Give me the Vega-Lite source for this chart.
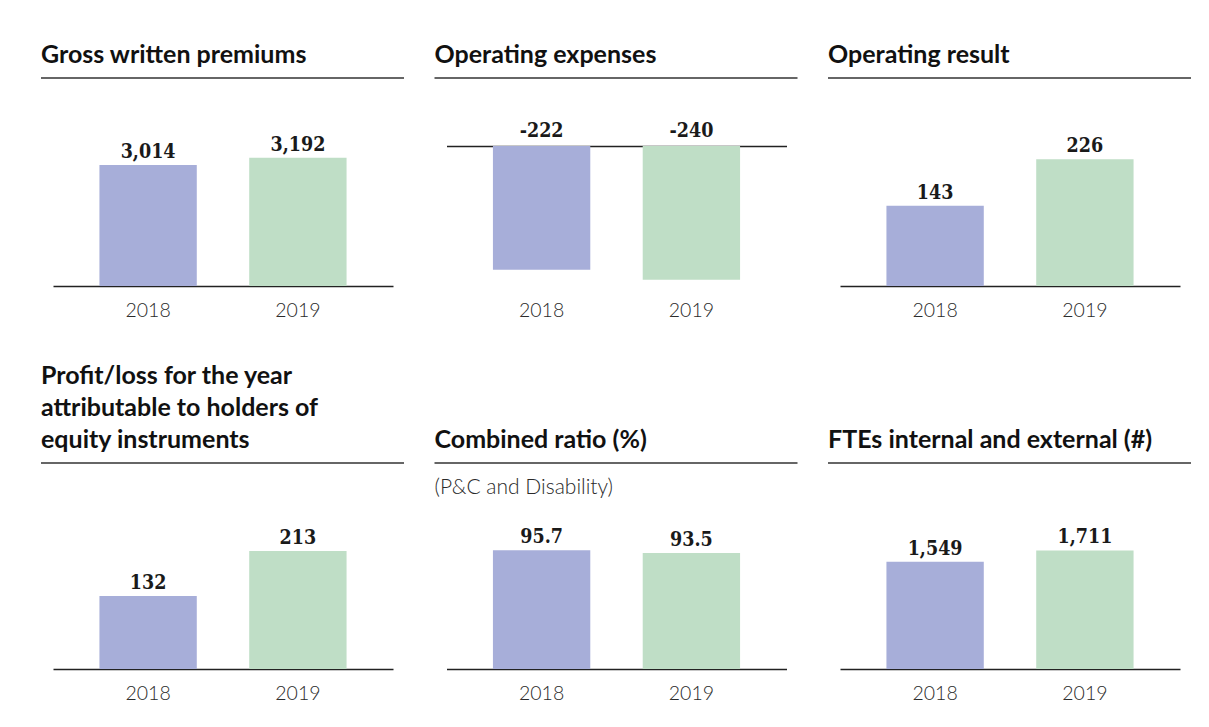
{
  "$schema": "https://vega.github.io/schema/vega-lite/v6.json",
  "background": "white",
  "padding": {"left": 40, "top": 42, "right": 5, "bottom": 5},
  "autosize": {"type": "pad"},
  "config": {
    "locale": {"number": {"decimal": ".", "thousands": ",", "grouping": [3], "currency": ["$", ""], "minus": "-"}},
    "view": {"stroke": null},
    "title": {"anchor": "start", "frame": "group", "font": "Lato", "fontSize": 25, "fontWeight": 700, "color": "#111111", "offset": 9.5, "lineHeight": 32},
    "axis": {"grid": false, "ticks": false, "tickSize": 0, "domainColor": "#222222", "domainWidth": 1.5, "labelFont": "Lato", "labelFontWeight": 300, "labelFontSize": 19.5, "labelColor": "#2a2a2a", "labelPadding": 15.5, "labelAngle": 0},
    "text": {"font": "DejaVu Serif Condensed", "fontWeight": "bold", "fontSize": 19.5, "color": "#1a1a1a"}
  },
  "datasets": {
    "kpi": [
      {"panel": "gwp", "year": "2018", "value": 3014},
      {"panel": "gwp", "year": "2019", "value": 3192},
      {"panel": "opex", "year": "2018", "value": -222},
      {"panel": "opex", "year": "2019", "value": -240},
      {"panel": "oper", "year": "2018", "value": 143},
      {"panel": "oper", "year": "2019", "value": 226},
      {"panel": "profit", "year": "2018", "value": 132},
      {"panel": "profit", "year": "2019", "value": 213},
      {"panel": "cr", "year": "2018", "value": 95.7},
      {"panel": "cr", "year": "2019", "value": 93.5},
      {"panel": "fte", "year": "2018", "value": 1549},
      {"panel": "fte", "year": "2019", "value": 1711}
    ],
    "note": [{"text": "(P&C and Disability)"}],
    "one": [{}]
  },
  "columns": 3,
  "bounds": "flush",
  "spacing": {"row": 177, "column": 30.5},
  "concat": [
    {
      "width": 363, "height": 208,
      "title": {"text": "Gross written premiums"},
      "data": {"name": "kpi"},
      "transform": [{"filter": "datum.panel === 'gwp'"}],
      "layer": [
        {"mark": {"type": "bar"},
         "encoding": {
           "x": {"field": "year", "type": "nominal", "title": null, "scale": {"range": [12, 352], "paddingInner": 0.35, "paddingOuter": 0.31}},
           "y": {"field": "value", "type": "quantitative", "scale": {"domain": [0, 5180]}, "axis": null},
           "color": {"field": "year", "type": "nominal", "scale": {"domain": ["2018", "2019"], "range": ["#a7aed9", "#bfdec6"]}, "legend": null}}},
        {"mark": {"type": "text", "baseline": "alphabetic", "dy": -7},
         "encoding": {
           "x": {"field": "year", "type": "nominal", "title": null},
           "y": {"field": "value", "type": "quantitative", "scale": {"domain": [0, 5180]}, "axis": null},
           "text": {"field": "value", "type": "quantitative", "format": ","}}},
        {"data": {"name": "one"}, "mark": {"type": "rule", "color": "#333333", "strokeWidth": 1.5},
         "encoding": {"y": {"datum": 5180, "type": "quantitative", "scale": {"domain": [0, 5180]}, "axis": null}}}
      ]
    },
    {
      "width": 363, "height": 208,
      "title": {"text": "Operating expenses"},
      "data": {"name": "kpi"},
      "transform": [{"filter": "datum.panel === 'opex'"}],
      "resolve": {"axis": {"x": "independent"}},
      "layer": [
        {"mark": {"type": "bar"},
         "encoding": {
           "x": {"field": "year", "type": "nominal", "title": null, "scale": {"range": [12, 352], "paddingInner": 0.35, "paddingOuter": 0.31}, "axis": {"domain": false}},
           "y": {"field": "value", "type": "quantitative", "scale": {"domain": [-251, 122]}, "axis": null},
           "color": {"field": "year", "type": "nominal", "scale": {"domain": ["2018", "2019"], "range": ["#a7aed9", "#bfdec6"]}, "legend": null}}},
        {"mark": {"type": "text", "baseline": "alphabetic", "dy": -9},
         "encoding": {
           "x": {"field": "year", "type": "nominal", "title": null, "axis": {"orient": "top", "labels": false, "domain": true, "offset": -68}},
           "y": {"datum": 0, "type": "quantitative", "scale": {"domain": [-251, 122]}, "axis": null},
           "text": {"field": "value", "type": "quantitative", "format": ","}}},
        {"data": {"name": "one"}, "mark": {"type": "rule", "color": "#333333", "strokeWidth": 1.5},
         "encoding": {"y": {"datum": 122, "type": "quantitative", "scale": {"domain": [-251, 122]}, "axis": null}}}
      ]
    },
    {
      "width": 363, "height": 208,
      "title": {"text": "Operating result"},
      "data": {"name": "kpi"},
      "transform": [{"filter": "datum.panel === 'oper'"}],
      "layer": [
        {"mark": {"type": "bar"},
         "encoding": {
           "x": {"field": "year", "type": "nominal", "title": null, "scale": {"range": [12, 352], "paddingInner": 0.35, "paddingOuter": 0.31}},
           "y": {"field": "value", "type": "quantitative", "scale": {"domain": [0, 371]}, "axis": null},
           "color": {"field": "year", "type": "nominal", "scale": {"domain": ["2018", "2019"], "range": ["#a7aed9", "#bfdec6"]}, "legend": null}}},
        {"mark": {"type": "text", "baseline": "alphabetic", "dy": -7},
         "encoding": {
           "x": {"field": "year", "type": "nominal", "title": null},
           "y": {"field": "value", "type": "quantitative", "scale": {"domain": [0, 371]}, "axis": null},
           "text": {"field": "value", "type": "quantitative", "format": ","}}},
        {"data": {"name": "one"}, "mark": {"type": "rule", "color": "#333333", "strokeWidth": 1.5},
         "encoding": {"y": {"datum": 371, "type": "quantitative", "scale": {"domain": [0, 371]}, "axis": null}}}
      ]
    },
    {
      "width": 363, "height": 206,
      "title": {"text": ["Profit/loss for the year", "attributable to holders of", "equity instruments"]},
      "data": {"name": "kpi"},
      "transform": [{"filter": "datum.panel === 'profit'"}],
      "layer": [
        {"mark": {"type": "bar"},
         "encoding": {
           "x": {"field": "year", "type": "nominal", "title": null, "scale": {"range": [12, 352], "paddingInner": 0.35, "paddingOuter": 0.31}},
           "y": {"field": "value", "type": "quantitative", "scale": {"domain": [0, 372]}, "axis": null},
           "color": {"field": "year", "type": "nominal", "scale": {"domain": ["2018", "2019"], "range": ["#a7aed9", "#bfdec6"]}, "legend": null}}},
        {"mark": {"type": "text", "baseline": "alphabetic", "dy": -7},
         "encoding": {
           "x": {"field": "year", "type": "nominal", "title": null},
           "y": {"field": "value", "type": "quantitative", "scale": {"domain": [0, 372]}, "axis": null},
           "text": {"field": "value", "type": "quantitative", "format": ","}}},
        {"data": {"name": "one"}, "mark": {"type": "rule", "color": "#333333", "strokeWidth": 1.5},
         "encoding": {"y": {"datum": 372, "type": "quantitative", "scale": {"domain": [0, 372]}, "axis": null}}}
      ]
    },
    {
      "width": 363, "height": 206,
      "title": {"text": "Combined ratio (%)"},
      "data": {"name": "kpi"},
      "transform": [{"filter": "datum.panel === 'cr'"}],
      "layer": [
        {"mark": {"type": "bar"},
         "encoding": {
           "x": {"field": "year", "type": "nominal", "title": null, "scale": {"range": [12, 352], "paddingInner": 0.35, "paddingOuter": 0.31}},
           "y": {"field": "value", "type": "quantitative", "scale": {"domain": [0, 166]}, "axis": null},
           "color": {"field": "year", "type": "nominal", "scale": {"domain": ["2018", "2019"], "range": ["#a7aed9", "#bfdec6"]}, "legend": null}}},
        {"mark": {"type": "text", "baseline": "alphabetic", "dy": -7},
         "encoding": {
           "x": {"field": "year", "type": "nominal", "title": null},
           "y": {"field": "value", "type": "quantitative", "scale": {"domain": [0, 166]}, "axis": null},
           "text": {"field": "value", "type": "quantitative", "format": ".1f"}}},
        {"data": {"name": "one"}, "mark": {"type": "rule", "color": "#333333", "strokeWidth": 1.5},
         "encoding": {"y": {"datum": 166, "type": "quantitative", "scale": {"domain": [0, 166]}, "axis": null}}},
        {"data": {"name": "note"}, "mark": {"type": "text", "align": "left", "baseline": "middle", "font": "Lato", "fontWeight": 300, "fontSize": 21, "color": "#2a2a2a"},
         "encoding": {
           "x": {"value": 0},
           "y": {"datum": 146, "type": "quantitative", "scale": {"domain": [0, 166]}, "axis": null},
           "text": {"field": "text", "type": "nominal"}}}
      ]
    },
    {
      "width": 363, "height": 206,
      "title": {"text": "FTEs internal and external (#)"},
      "data": {"name": "kpi"},
      "transform": [{"filter": "datum.panel === 'fte'"}],
      "layer": [
        {"mark": {"type": "bar"},
         "encoding": {
           "x": {"field": "year", "type": "nominal", "title": null, "scale": {"range": [12, 352], "paddingInner": 0.35, "paddingOuter": 0.31}},
           "y": {"field": "value", "type": "quantitative", "scale": {"domain": [0, 2972]}, "axis": null},
           "color": {"field": "year", "type": "nominal", "scale": {"domain": ["2018", "2019"], "range": ["#a7aed9", "#bfdec6"]}, "legend": null}}},
        {"mark": {"type": "text", "baseline": "alphabetic", "dy": -7},
         "encoding": {
           "x": {"field": "year", "type": "nominal", "title": null},
           "y": {"field": "value", "type": "quantitative", "scale": {"domain": [0, 2972]}, "axis": null},
           "text": {"field": "value", "type": "quantitative", "format": ","}}},
        {"data": {"name": "one"}, "mark": {"type": "rule", "color": "#333333", "strokeWidth": 1.5},
         "encoding": {"y": {"datum": 2972, "type": "quantitative", "scale": {"domain": [0, 2972]}, "axis": null}}}
      ]
    }
  ]
}
